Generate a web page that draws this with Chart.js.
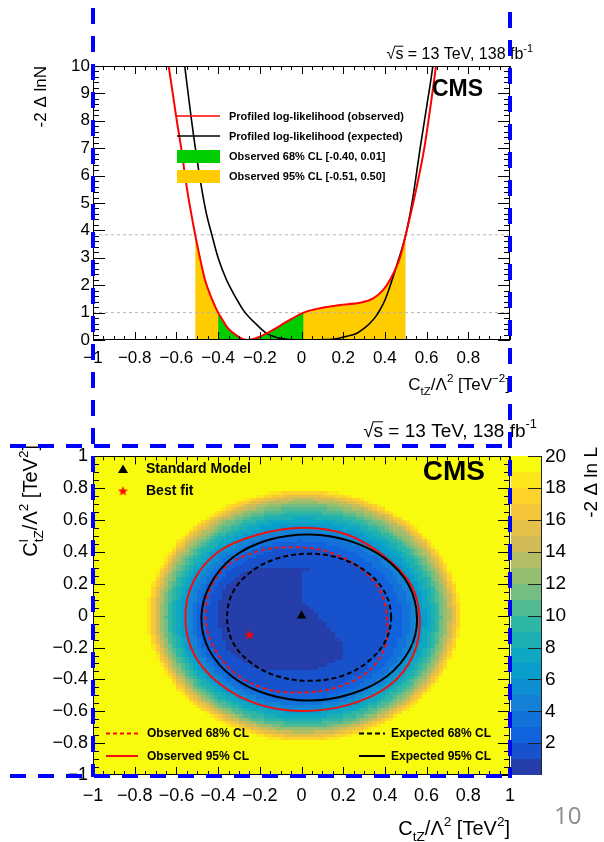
<!DOCTYPE html>
<html>
<head>
<meta charset="utf-8">
<script src="https://cdn.jsdelivr.net/npm/chart.js@4.4.0/dist/chart.umd.min.js"></script>
<style>
  html, body { margin: 0; padding: 0; background: #fff; }
  #page { position: relative; width: 604px; height: 842px; overflow: hidden; }
  canvas { position: absolute; left: 0; }
  #topChart { top: 0; }
  #bottomChart { top: 410px; }
  #pageNo { position: absolute; left: 554px; top: 803px; font: 24px "Open Sans", "Liberation Sans", sans-serif; line-height: 24px; color: #8c8c8c; }
  svg { position: absolute; left: 0; top: 0; pointer-events: none; }
</style>
</head>
<body>
<div id="page">
  <canvas id="topChart" width="604" height="410"></canvas>
  <canvas id="bottomChart" width="604" height="432"></canvas>
  <div id="pageNo">10</div>
  <svg width="604" height="842">
    <g stroke="#0000ff" stroke-width="4" stroke-dasharray="16 12" fill="none">
      <line x1="93" y1="8" x2="93" y2="777"></line>
      <line x1="510" y1="12" x2="510" y2="778"></line>
      <line x1="10" y1="446" x2="510" y2="446"></line>
      <line x1="10" y1="776" x2="510" y2="776"></line>
    </g>
  </svg>
</div>
<script>
var fontFam = '"Liberation Sans", Arial, Helvetica, sans-serif';
Chart.defaults.font.family = fontFam;
Chart.defaults.color = '#000';

// ---------- top panel: 1D profiled scan of C_tZ ----------
var obsX = [-0.66, -0.637, -0.60, -0.577, -0.55, -0.51, -0.49, -0.463, -0.43, -0.40, -0.38, -0.359, -0.33, -0.303, -0.28, -0.26, -0.23, -0.20, -0.136, -0.071, 0.01, 0.088, 0.184, 0.28, 0.344, 0.392, 0.424, 0.472, 0.50, 0.55, 0.59, 0.62, 0.645, 0.66];
var obsY = [11.3, 10, 8.1, 7.0, 5.55, 3.84, 3.1, 2.2, 1.5, 1.0, 0.75, 0.49, 0.27, 0.12, 0.03, 0, 0.04, 0.12, 0.37, 0.67, 1.0, 1.16, 1.28, 1.36, 1.52, 1.83, 2.19, 3.0, 3.84, 5.5, 7.05, 8.6, 10, 11];
var expX = [-0.575, -0.56, -0.51, -0.46, -0.43, -0.40, -0.36, -0.33, -0.30, -0.28, -0.25, -0.22, -0.19, -0.167, -0.13, -0.10, -0.05, 0, 0.05, 0.10, 0.15, 0.184, 0.22, 0.264, 0.30, 0.328, 0.36, 0.38, 0.40, 0.424, 0.46, 0.50, 0.53, 0.57, 0.60, 0.63, 0.645];
var expY = [11, 10, 7.05, 4.75, 3.84, 3.0, 2.2, 1.75, 1.35, 1.1, 0.82, 0.6, 0.38, 0.24, 0.12, 0.06, 0.01, 0, 0, 0.01, 0.03, 0.07, 0.14, 0.24, 0.42, 0.61, 0.9, 1.15, 1.45, 1.95, 2.8, 3.84, 5.0, 7.05, 8.5, 10, 11];
var cl68 = [-0.40, 0.01];
var cl95 = [-0.51, 0.50];
var clLevels = [1, 3.84];

// ---------- bottom panel: 2D scan (C_tZ, C^l_tZ) ----------
var obs68X = [0.411, 0.38, 0.28, 0.13, -0.03, -0.19, -0.35, -0.44, -0.459, -0.42, -0.32, -0.17, 0.0, 0.17, 0.32, 0.40];
var obs68Y = [-0.03, 0.15, 0.30, 0.40, 0.43, 0.41, 0.32, 0.16, -0.03, -0.20, -0.36, -0.46, -0.482, -0.45, -0.35, -0.20];
var obs95X = [0.567, 0.524, 0.395, 0.22, 0.01, -0.21, -0.40, -0.52, -0.557, -0.514, -0.39, -0.21, 0.0, 0.225, 0.42, 0.535];
var obs95Y = [-0.023, 0.197, 0.375, 0.508, 0.552, 0.508, 0.40, 0.21, -0.02, -0.245, -0.43, -0.555, -0.598, -0.56, -0.44, -0.25];
var exp68X = [0.43, 0.40, 0.315, 0.185, 0.037, -0.115, -0.245, -0.33, -0.357, -0.33, -0.245, -0.115, 0.037, 0.19, 0.315, 0.40];
var exp68Y = [-0.01, 0.145, 0.273, 0.36, 0.389, 0.36, 0.273, 0.145, -0.01, -0.165, -0.293, -0.38, -0.409, -0.38, -0.293, -0.165];
var exp95X = [0.554, 0.515, 0.40, 0.23, 0.04, -0.16, -0.33, -0.44, -0.48, -0.445, -0.33, -0.16, 0.04, 0.24, 0.41, 0.52];
var exp95Y = [-0.02, 0.19, 0.36, 0.47, 0.51, 0.475, 0.365, 0.19, -0.01, -0.21, -0.385, -0.495, -0.533, -0.49, -0.38, -0.21];
var smPoint = [0, 0];
var bestFit = [-0.25, -0.12];

// region where -2 Delta lnL < 1 (darkest cells)
var coreX = [-0.19, 0.035, 0.035, 0.0, 0.0, 0.07, 0.145, 0.20, 0.20, 0.13, 0.035, -0.15, -0.26, -0.335, -0.38, -0.40, -0.39, -0.355, -0.28];
var coreY = [0.31, 0.31, 0.285, 0.265, 0.10, 0.02, -0.10, -0.18, -0.265, -0.305, -0.345, -0.345, -0.305, -0.245, -0.14, -0.02, 0.10, 0.20, 0.27];
// outside each of these ellipses -2 Delta lnL is above the level
var bandLevel = [2, 3, 4, 5, 6, 7, 8, 9, 10, 11, 12, 13, 14, 15, 16, 17, 18, 19];
var bandCx = [-0.02, -0.01, 0, 0, 0.005, 0.005, 0.008, 0.008, 0.01, 0.01, 0.01, 0.012, 0.012, 0.012, 0.012, 0.012, 0.012, 0.012];
var bandCy = [-0.03, -0.03, -0.025, -0.02, -0.02, -0.015, -0.015, -0.01, -0.01, -0.01, -0.005, -0.005, 0, 0, 0, 0, 0, 0];
var bandRx = [0.44, 0.49, 0.52, 0.545, 0.567, 0.588, 0.608, 0.628, 0.645, 0.66, 0.674, 0.687, 0.699, 0.71, 0.721, 0.731, 0.741, 0.75];
var bandRy = [0.455, 0.50, 0.535, 0.56, 0.58, 0.602, 0.627, 0.648, 0.668, 0.688, 0.704, 0.719, 0.732, 0.745, 0.757, 0.768, 0.779, 0.79];
var zMax = 20;
var cellSize = 0.02;

// ROOT kBird palette
var birdStop = [0, 0.125, 0.25, 0.375, 0.5, 0.625, 0.75, 0.875, 1];
var birdR = [0.2082, 0.0592, 0.0780, 0.0232, 0.1802, 0.5301, 0.8186, 0.9956, 0.9764];
var birdG = [0.1664, 0.3599, 0.5041, 0.6419, 0.7178, 0.7492, 0.7328, 0.7862, 0.9832];
var birdB = [0.5293, 0.8684, 0.8385, 0.7914, 0.6425, 0.4662, 0.3499, 0.1968, 0.0539];

function bird(t) {
    var k = 0;
    while (k < birdStop.length - 2 && t > birdStop[k + 1]) k++;
    var f = (t - birdStop[k]) / (birdStop[k + 1] - birdStop[k]);
    var c = function (a) { return Math.round(255 * (a[k] + (a[k + 1] - a[k]) * f)); };
    return 'rgb(' + c(birdR) + ',' + c(birdG) + ',' + c(birdB) + ')';
}
var bandColors = [];
for (var b = 0; b < zMax; b++) bandColors.push(bird((b + 1) / zMax));

function pts(xs, ys) { return xs.map(function (x, i) { return { x: x, y: ys[i] }; }); }
function between(xs, ys, lo, hi) {
    return pts(xs, ys).filter(function (p) { return p.x >= lo - 1e-9 && p.x <= hi + 1e-9; });
}
function fmt(v) {
    var r = Math.round(v * 10) / 10;
    if (Math.abs(r) < 1e-9) return '0';
    return (r < 0 ? '\u2212' : '') + String(Math.abs(r));
}

function inPoly(x, y, px, py) {
    var inside = false;
    for (var i = 0, j = px.length - 1; i < px.length; j = i++) {
        if ((py[i] > y) != (py[j] > y) && x < (px[j] - px[i]) * (y - py[i]) / (py[j] - py[i]) + px[i]) inside = !inside;
    }
    return inside;
}
function cellBand(x, y) {
    if (inPoly(x, y, coreX, coreY)) return 0;
    var band = 1;
    for (var k = 0; k < bandLevel.length; k++) {
        var dx = (x - bandCx[k]) / bandRx[k], dy = (y - bandCy[k]) / bandRy[k];
        if (dx * dx + dy * dy > 1) band = bandLevel[k];
    }
    return Math.min(band, zMax - 1);
}

// text with sub/superscripts: mode 0 normal, 1 sup, -1 sub, 2 sup (stacked), -2 sub under previous sup, 3 overline
function rich(ctx, parts, x, y, size, align, opt) {
    opt = opt || {};
    var f = function (s) { return (opt.bold ? 'bold ' : '') + s + 'px ' + fontFam; };
    ctx.save();
    ctx.translate(x, y);
    if (opt.rotate) ctx.rotate(opt.rotate);
    ctx.fillStyle = opt.color || '#000';
    ctx.textBaseline = 'alphabetic';
    ctx.textAlign = 'left';
    var items = [], cx = 0, stack = 0;
    parts.forEach(function (p) {
        var t = p[0], m = p[1];
        var s = (m === 0 || m === 3) ? size : size * 0.68;
        ctx.font = f(s);
        var w = ctx.measureText(t).width;
        var dy = (m === 1 || m === 2) ? -size * 0.45 : (m === -1 || m === -2) ? size * 0.28 : 0;
        var px = cx;
        if (m === -2) { px = stack; cx = Math.max(cx, stack + w); }
        else { if (m === 2) stack = cx; cx += w; }
        items.push({ t: t, s: s, px: px, dy: dy, w: w, m: m });
    });
    var off = align === 'right' ? -cx : align === 'center' ? -cx / 2 : 0;
    items.forEach(function (it) {
        ctx.font = f(it.s);
        ctx.fillText(it.t, off + it.px, it.dy);
        if (it.m === 3) {
            ctx.strokeStyle = ctx.fillStyle;
            ctx.lineWidth = 1;
            ctx.beginPath();
            ctx.moveTo(off + it.px - 1, -size * 0.8);
            ctx.lineTo(off + it.px + it.w, -size * 0.8);
            ctx.stroke();
        }
    });
    ctx.restore();
}

// ROOT-like frame with inner ticks on all four sides
function frameTicks(chart, t) {
    var ctx = chart.ctx, a = chart.chartArea, xs = chart.scales.x, ys = chart.scales.y;
    ctx.save();
    ctx.strokeStyle = '#000';
    ctx.lineWidth = 1;
    ctx.beginPath();
    var nx = Math.round((xs.max - xs.min) / t.xMinor);
    for (var i = 0; i <= nx; i++) {
        var px = Math.round(xs.getPixelForValue(xs.min + i * t.xMinor)) + 0.5;
        var l = i % t.xEvery === 0 ? t.xLen : t.xLen / 2;
        ctx.moveTo(px, a.bottom); ctx.lineTo(px, a.bottom - l);
        ctx.moveTo(px, a.top); ctx.lineTo(px, a.top + l);
    }
    var ny = Math.round((ys.max - ys.min) / t.yMinor);
    for (var j = 0; j <= ny; j++) {
        var py = Math.round(ys.getPixelForValue(ys.min + j * t.yMinor)) + 0.5;
        var m = j % t.yEvery === 0 ? t.yLen : t.yLen / 2;
        ctx.moveTo(a.left, py); ctx.lineTo(a.left + m, py);
        ctx.moveTo(a.right, py); ctx.lineTo(a.right - m, py);
    }
    ctx.stroke();
    ctx.strokeRect(Math.round(a.left) + 0.5, Math.round(a.top) + 0.5, Math.round(a.width) - 1, Math.round(a.height) - 1);
    ctx.restore();
}

var sqrtS = [['\u221a', 0], ['s', 3], [' = 13 TeV, 138 fb', 0], ['-1', 1]];

// ================= top chart =================
var topDecor = {
    id: 'topDecor',
    afterDraw: function (chart) {
        var ctx = chart.ctx;
        frameTicks(chart, { xMinor: 0.05, xEvery: 4, xLen: 8, yMinor: 0.2, yEvery: 5, yLen: 12 });
        rich(ctx, sqrtS, 533, 59, 16, 'right');
        rich(ctx, [['CMS', 0]], 483, 96, 23, 'right', { bold: true });
        rich(ctx, [['C', 0], ['tZ', -1], ['/\u039b', 0], ['2', 1], [' [TeV', 0], ['\u22122', 1], [']', 0]], 510, 390, 17, 'right');
        rich(ctx, [['-2 \u0394 lnN', 0]], 46, 66, 17, 'right', { rotate: -Math.PI / 2 });
        // legend
        var rows = [
            { y: 116, type: 'line', color: '#ff0000', text: 'Profiled log-likelihood (observed)' },
            { y: 136, type: 'line', color: '#000000', text: 'Profiled log-likelihood (expected)' },
            { y: 156.5, type: 'box', color: '#00cc00', text: 'Observed 68% CL [' + cl68[0].toFixed(2) + ', ' + cl68[1].toFixed(2) + ']' },
            { y: 176.5, type: 'box', color: '#ffcc00', text: 'Observed 95% CL [' + cl95[0].toFixed(2) + ', ' + cl95[1].toFixed(2) + ']' }
        ];
        ctx.save();
        rows.forEach(function (r) {
            if (r.type === 'line') {
                ctx.strokeStyle = r.color; ctx.lineWidth = 1.5;
                ctx.beginPath(); ctx.moveTo(177, r.y); ctx.lineTo(220, r.y); ctx.stroke();
            } else {
                ctx.fillStyle = r.color;
                ctx.fillRect(177, r.y - 6.5, 43, 13);
            }
            ctx.fillStyle = '#000';
            ctx.font = 'bold 11px ' + fontFam;
            ctx.textBaseline = 'middle';
            ctx.fillText(r.text, 229, r.y + 0.5);
        });
        ctx.restore();
    }
};

new Chart(document.getElementById('topChart'), {
    type: 'line',
    data: {
        datasets: [
            { label: 'Profiled log-likelihood (observed)', data: pts(obsX, obsY), borderColor: '#ff0000', borderWidth: 2, pointRadius: 0, cubicInterpolationMode: 'monotone', fill: false },
            { label: 'Profiled log-likelihood (expected)', data: pts(expX, expY), borderColor: '#000000', borderWidth: 1.6, pointRadius: 0, cubicInterpolationMode: 'monotone', fill: false },
            { label: 'dl1', data: [{ x: -1, y: clLevels[0] }, { x: 1, y: clLevels[0] }], borderColor: '#b4b4b4', borderWidth: 1, borderDash: [3, 3], pointRadius: 0, fill: false },
            { label: 'dl2', data: [{ x: -1, y: clLevels[1] }, { x: 1, y: clLevels[1] }], borderColor: '#b4b4b4', borderWidth: 1, borderDash: [3, 3], pointRadius: 0, fill: false },
            { label: 'Observed 68% CL', data: between(obsX, obsY, cl68[0], cl68[1]), borderWidth: 0, borderColor: 'rgba(0,0,0,0)', backgroundColor: '#00cc00', pointRadius: 0, cubicInterpolationMode: 'monotone', fill: 'origin' },
            { label: 'Observed 95% CL', data: between(obsX, obsY, cl95[0], cl95[1]), borderWidth: 0, borderColor: 'rgba(0,0,0,0)', backgroundColor: '#ffcc00', pointRadius: 0, cubicInterpolationMode: 'monotone', fill: 'origin' }
        ]
    },
    options: {
        responsive: false,
        animation: false,
        events: [],
        layout: { padding: { left: 0, top: 66, right: 94, bottom: 0 } },
        plugins: { legend: { display: false }, tooltip: { enabled: false } },
        scales: {
            x: {
                type: 'linear', min: -1, max: 1,
                grid: { display: false, drawTicks: false }, border: { display: false },
                ticks: { stepSize: 0.2, maxRotation: 0, autoSkip: false, padding: 8, font: { size: 17 }, color: '#000',
                    callback: function (v) { return Math.abs(v - 1) < 1e-6 ? '' : fmt(v); } },
                afterFit: function (s) { s.height = 70; }
            },
            y: {
                type: 'linear', min: 0, max: 10,
                grid: { display: false, drawTicks: false }, border: { display: false },
                ticks: { stepSize: 1, padding: 3, font: { size: 17 }, color: '#000' },
                afterFit: function (s) { s.width = 93; }
            }
        }
    },
    plugins: [topDecor]
});

// ================= bottom chart =================
var star = document.createElement('canvas');
star.width = 11; star.height = 11;
(function () {
    var c = star.getContext('2d');
    c.fillStyle = '#ff0000';
    c.beginPath();
    for (var i = 0; i < 10; i++) {
        var r = i % 2 === 0 ? 5.3 : 2.2, ang = -Math.PI / 2 + i * Math.PI / 5;
        c.lineTo(5.5 + r * Math.cos(ang), 5.8 + r * Math.sin(ang));
    }
    c.closePath();
    c.fill();
})();

// contour datasets are closed, smooth loops
var closedLoops = {
    id: 'closedLoops',
    afterDatasetUpdate: function (chart, args) {
        var ds = chart.data.datasets[args.index];
        if (ds.closed && args.meta.dataset) {
            args.meta.dataset._loop = true;
            args.meta.dataset._fullLoop = true;
        }
    }
};

var heatmap = {
    id: 'heatmap',
    beforeDatasetsDraw: function (chart) {
        var ctx = chart.ctx, a = chart.chartArea, x = chart.scales.x, y = chart.scales.y, z = chart.scales.z;
        ctx.save();
        ctx.beginPath(); ctx.rect(a.left, a.top, a.width, a.height); ctx.clip();
        var n = Math.round((x.max - x.min) / cellSize);
        for (var i = 0; i < n; i++) {
            for (var j = 0; j < n; j++) {
                var cx = x.min + (i + 0.5) * cellSize, cy = y.min + (j + 0.5) * cellSize;
                var x0 = Math.round(x.getPixelForValue(cx - cellSize / 2)), x1 = Math.round(x.getPixelForValue(cx + cellSize / 2));
                var y0 = Math.round(y.getPixelForValue(cy + cellSize / 2)), y1 = Math.round(y.getPixelForValue(cy - cellSize / 2));
                ctx.fillStyle = bandColors[cellBand(cx, cy)];
                ctx.fillRect(x0, y0, x1 - x0, y1 - y0);
            }
        }
        ctx.restore();
        // colour bar
        ctx.save();
        var left = Math.round(a.right) + 1, w = 30;
        for (var b = 0; b < zMax; b++) {
            var t = Math.round(z.getPixelForValue(b + 1)), bt = Math.round(z.getPixelForValue(b));
            ctx.fillStyle = bandColors[b];
            ctx.fillRect(left, t, w, bt - t);
        }
        ctx.strokeStyle = '#222';
        ctx.lineWidth = 1;
        ctx.beginPath();
        ctx.moveTo(left + w + 0.5, Math.round(z.getPixelForValue(zMax)));
        ctx.lineTo(left + w + 0.5, Math.round(z.getPixelForValue(0)));
        z.ticks.forEach(function (tk) {
            if (tk.value === 0) return;
            var py = Math.round(z.getPixelForValue(tk.value)) + 0.5;
            ctx.moveTo(left + w, py); ctx.lineTo(left + w - 13, py);
        });
        ctx.stroke();
        ctx.restore();
    },
    afterDraw: function (chart) {
        var ctx = chart.ctx;
        frameTicks(chart, { xMinor: 0.05, xEvery: 4, xLen: 8, yMinor: 0.05, yEvery: 4, yLen: 12 });
        rich(ctx, sqrtS, 537, 27, 19, 'right');
        rich(ctx, [['CMS', 0]], 485, 70, 28, 'right', { bold: true });
        rich(ctx, [['C', 0], ['tZ', -1], ['/\u039b', 0], ['2', 1], [' [TeV', 0], ['2', 1], [']', 0]], 510, 425, 20, 'right');
        rich(ctx, [['C', 0], ['l', 2], ['tZ', -2], ['/\u039b', 0], ['2', 1], [' [TeV', 0], ['2', 1], [']', 0]], 37, 35, 20, 'right', { rotate: -Math.PI / 2 });
        rich(ctx, [['-2 \u0394 ln L', 0]], 597, 37, 19, 'right', { rotate: -Math.PI / 2 });
        // legend
        ctx.save();
        ctx.fillStyle = '#000';
        ctx.beginPath();
        ctx.moveTo(123, 54.5); ctx.lineTo(128, 63); ctx.lineTo(118, 63); ctx.closePath();
        ctx.fill();
        ctx.drawImage(star, 123 - 5.5, 81 - 5.5);
        ctx.font = 'bold 14px ' + fontFam;
        ctx.textBaseline = 'middle';
        ctx.fillText('Standard Model', 146, 59.5);
        ctx.fillText('Best fit', 146, 81.5);
        var rows = [
            { x: 106, tx: 147, y: 323.5, color: '#f01010', dash: [4, 3], text: 'Observed 68% CL' },
            { x: 106, tx: 147, y: 346, color: '#f01010', dash: [], text: 'Observed 95% CL' },
            { x: 359, tx: 391, y: 323.5, color: '#000', dash: [5, 3], text: 'Expected 68% CL' },
            { x: 359, tx: 391, y: 346, color: '#000', dash: [], text: 'Expected 95% CL' }
        ];
        ctx.font = 'bold 12px ' + fontFam;
        rows.forEach(function (r) {
            ctx.strokeStyle = r.color; ctx.lineWidth = 2; ctx.setLineDash(r.dash);
            ctx.beginPath(); ctx.moveTo(r.x, r.y); ctx.lineTo(r.x + (r.x < 200 ? 32 : 26), r.y); ctx.stroke();
            ctx.fillStyle = '#000';
            ctx.fillText(r.text, r.tx, r.y + 0.5);
        });
        ctx.restore();
    }
};

new Chart(document.getElementById('bottomChart'), {
    type: 'scatter',
    data: {
        datasets: [
            { label: 'Best fit', data: [{ x: bestFit[0], y: bestFit[1] }], pointStyle: star, pointRadius: 5, showLine: false },
            { label: 'Standard Model', data: [{ x: smPoint[0], y: smPoint[1] }], pointStyle: 'triangle', pointRadius: 5.5, backgroundColor: '#000', borderColor: '#000', borderWidth: 0, showLine: false },
            { label: 'Expected 68% CL', closed: true, data: pts(exp68X, exp68Y), showLine: true, borderColor: '#000', borderWidth: 2, borderDash: [5, 3], tension: 0.35, pointRadius: 0 },
            { label: 'Expected 95% CL', closed: true, data: pts(exp95X, exp95Y), showLine: true, borderColor: '#000', borderWidth: 2, tension: 0.35, pointRadius: 0 },
            { label: 'Observed 68% CL', closed: true, data: pts(obs68X, obs68Y), showLine: true, borderColor: '#f01010', borderWidth: 2, borderDash: [4, 3], tension: 0.35, pointRadius: 0 },
            { label: 'Observed 95% CL', closed: true, data: pts(obs95X, obs95Y), showLine: true, borderColor: '#f01010', borderWidth: 2, tension: 0.35, pointRadius: 0 }
        ]
    },
    options: {
        responsive: false,
        animation: false,
        events: [],
        layout: { padding: { left: 0, top: 35, right: 0, bottom: 0 } },
        plugins: { legend: { display: false }, tooltip: { enabled: false } },
        scales: {
            x: {
                type: 'linear', min: -1, max: 1,
                grid: { display: false, drawTicks: false }, border: { display: false },
                ticks: { stepSize: 0.2, maxRotation: 0, autoSkip: false, padding: 10, font: { size: 18 }, color: '#000', callback: fmt },
                afterFit: function (s) { s.height = 67; }
            },
            y: {
                type: 'linear', min: -1, max: 1,
                grid: { display: false, drawTicks: false }, border: { display: false },
                ticks: { stepSize: 0.2, padding: 5, font: { size: 18 }, color: '#000', callback: fmt },
                afterFit: function (s) { s.width = 93; }
            },
            z: {
                type: 'linear', position: 'right', min: 0, max: zMax,
                grid: { display: false, drawTicks: false }, border: { display: false },
                ticks: { stepSize: 2, padding: 35, font: { size: 19 }, color: '#000',
                    callback: function (v) { return v === 0 ? '' : String(v); } },
                afterFit: function (s) { s.width = 94; }
            }
        }
    },
    plugins: [closedLoops, heatmap]
});
</script>
</body>
</html>
